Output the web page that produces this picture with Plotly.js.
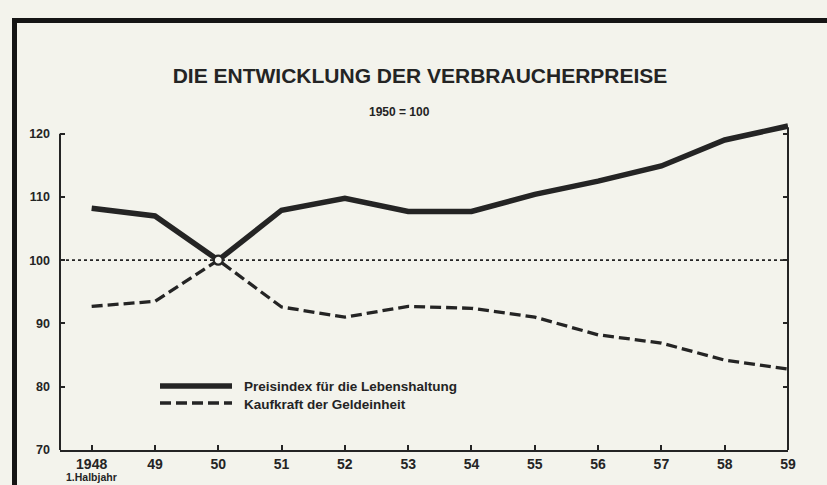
<!DOCTYPE html>
<html>
<head>
<meta charset="utf-8">
<script src="https://cdn.plot.ly/plotly-3.0.1.min.js"></script>
<style>
  html, body { margin:0; padding:0; width:827px; height:485px; overflow:hidden; background:#f3f3ec; }
  #chart { position:absolute; left:0; top:0; width:827px; height:485px; }
</style>
</head>
<body>
<div id="chart"></div>
<script>
// ---- data ----
const years = [1948, 1949, 1950, 1951, 1952, 1953, 1954, 1955, 1956, 1957, 1958, 1959];
const tickLabels = ["1948", "49", "50", "51", "52", "53", "54", "55", "56", "57", "58", "59"];
const firstTickNote = "1.Halbjahr";
const preisindex = [108.2, 107.0, 100, 107.9, 109.8, 107.7, 107.7, 110.4, 112.5, 114.9, 119.0, 121.2];
const kaufkraft  = [92.7, 93.5, 100, 92.6, 91.0, 92.7, 92.4, 91.0, 88.2, 86.9, 84.2, 82.8];
const yTicks = [70, 80, 90, 100, 110, 120];
const seriesNames = ["Preisindex für die Lebenshaltung", "Kaufkraft der Geldeinheit"];
const baseYear = 1950;
const baseIndex = years.indexOf(baseYear);

// ---- layout geometry ----
const W = 827, H = 485, L = 60, R = 39, T = 121, B = 35;
const px = x => (x - L) / (W - L - R);
const py = y => 1 - (y - T) / (H - T - B);
const ink = '#242424';
const fontNarrow = "Liberation Sans Narrow, Arial Narrow, sans-serif";

const traces = [
  {
    x: years, y: preisindex, type: 'scatter', mode: 'lines', name: seriesNames[0],
    line: { color: ink, width: 5.5, shape: 'linear' }, showlegend: false, hoverinfo: 'skip'
  },
  {
    x: years, y: kaufkraft, type: 'scatter', mode: 'lines', name: seriesNames[1],
    line: { color: ink, width: 3.3, dash: '11px,5px' }, showlegend: false, hoverinfo: 'skip'
  },
  {
    x: [years[baseIndex]], y: [preisindex[baseIndex]], type: 'scatter', mode: 'markers',
    marker: { size: 9, color: '#f6f6f0', line: { color: ink, width: 2.2 } },
    showlegend: false, hoverinfo: 'skip', cliponaxis: false
  }
];

const layout = {
  width: W, height: H,
  margin: { l: L, r: R, t: T, b: B, pad: 0 },
  paper_bgcolor: 'rgba(0,0,0,0)',
  plot_bgcolor: 'rgba(0,0,0,0)',
  showlegend: false,
  title: {
    text: 'DIE ENTWICKLUNG DER VERBRAUCHERPREISE',
    x: 420 / W, xanchor: 'center', xref: 'container',
    y: 1 - 76 / H, yanchor: 'middle', yref: 'container',
    font: { family: 'Liberation Sans, Arial, sans-serif', size: 21, color: ink, weight: 'bold' }
  },
  xaxis: {
    range: [1947.5, 1959], showgrid: false, zeroline: false,
    showline: true, linecolor: ink, linewidth: 2,
    ticks: 'inside', ticklen: 5, tickwidth: 2, tickcolor: ink,
    tickvals: years, ticktext: tickLabels,
    tickfont: { family: fontNarrow, size: 14, color: ink, weight: 'bold' },
    fixedrange: true
  },
  yaxis: {
    range: [70, 122], showgrid: false, zeroline: false,
    showline: false, mirror: 'ticks',
    ticks: 'inside', ticklen: 5, tickwidth: 2, tickcolor: ink,
    tickvals: yTicks,
    ticklabelstandoff: 9,
    tickfont: { family: 'Liberation Sans, Arial, sans-serif', size: 12.5, color: ink, weight: 'bold' },
    fixedrange: true
  },
  shapes: [
    // axis frame lines
    { type: 'line', xref: 'paper', yref: 'y', x0: 0, x1: 0, y0: 70, y1: 120, line: { color: ink, width: 2 } },
    { type: 'line', xref: 'paper', yref: 'y', x0: 1, x1: 1, y0: 70, y1: 121, line: { color: ink, width: 2 } },
    // base-year reference line
    { type: 'line', xref: 'paper', yref: 'y', x0: 0, x1: 1, y0: 100, y1: 100, line: { color: ink, width: 1.8, dash: 'dot' }, layer: 'below' },
    // page frame (thick black rules)
    { type: 'line', xref: 'paper', yref: 'paper', x0: px(12), x1: px(830), y0: py(20.5), y1: py(20.5), line: { color: '#151515', width: 5 } },
    { type: 'line', xref: 'paper', yref: 'paper', x0: px(14.5), x1: px(14.5), y0: py(18), y1: py(490), line: { color: '#151515', width: 5 } },
    // legend samples
    { type: 'line', xref: 'paper', yref: 'paper', x0: px(160), x1: px(232), y0: py(386), y1: py(386), line: { color: ink, width: 5.5 } },
    { type: 'line', xref: 'paper', yref: 'paper', x0: px(160), x1: px(232), y0: py(403), y1: py(403), line: { color: ink, width: 3.3, dash: '11px,5px' } }
  ],
  annotations: [
    { text: '1950 = 100', xref: 'paper', yref: 'paper', x: px(399), y: py(112), xanchor: 'center', yanchor: 'middle',
      showarrow: false, font: { family: 'Liberation Sans, Arial, sans-serif', size: 12, color: ink, weight: 'bold' } },
    { text: firstTickNote, xref: 'x', yref: 'paper', x: years[0], y: py(477), xanchor: 'center', yanchor: 'middle',
      showarrow: false, font: { family: fontNarrow, size: 10.5, color: ink, weight: 'bold' } },
    { text: seriesNames[0], xref: 'paper', yref: 'paper', x: px(242), y: py(386), xanchor: 'left', yanchor: 'middle',
      showarrow: false, font: { family: fontNarrow, size: 13.5, color: ink, weight: 'bold' } },
    { text: seriesNames[1], xref: 'paper', yref: 'paper', x: px(242), y: py(404), xanchor: 'left', yanchor: 'middle',
      showarrow: false, font: { family: fontNarrow, size: 13.5, color: ink, weight: 'bold' } }
  ]
};

Plotly.newPlot('chart', traces, layout, { staticPlot: true, displayModeBar: false });
</script>
</body>
</html>
